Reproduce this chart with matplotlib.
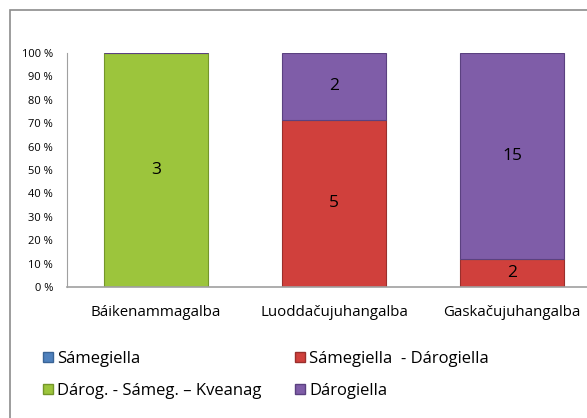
import matplotlib.pyplot as plt
from matplotlib.patches import Patch, Rectangle
import numpy as np

plt.rcParams["font.family"] = ["Open Sans", "DejaVu Sans"]

categories = ["Báikenammagalba", "Luoddačujuhangalba", "Gaskačujuhangalba"]
series_names = ["Sámegiella", "Sámegiella  - Dárogiella",
                "Dárog. - Sámeg. – Kveanag", "Dárogiella"]
samegiella = [0, 0, 0]
same_daro = [0, 5, 2]
daro_same_kvea = [3, 0, 0]
darogiella = [0, 2, 15]
colors = ["#4F81BD", "#D0403C", "#9CC53C", "#7F5DA8"]
edges = ["#3A6496", "#9A2F2C", "#74962A", "#5B4180"]

values = np.array([samegiella, same_daro, daro_same_kvea, darogiella], dtype=float)
totals = values.sum(axis=0)
shares = values / totals * 100

fig = plt.figure(figsize=(5.87, 4.18), dpi=100)
ax = fig.add_axes([67 / 587, 131 / 418, 534 / 587, 234 / 418])

x = np.arange(len(categories))
bottom = np.zeros(len(categories))
for i in range(len(series_names)):
    ax.bar(x, shares[i], 0.58, bottom=bottom, color=colors[i],
           edgecolor=edges[i], linewidth=0.8)
    for j in range(len(categories)):
        if values[i, j] > 0:
            ax.text(x[j], bottom[j] + shares[i, j] / 2, f"{values[i, j]:.0f}",
                    ha="center", va="center", fontsize=12.5, color="black")
    bottom += shares[i]

ax.set_xlim(-0.5, 2.5)
ax.set_ylim(0, 100)
ax.set_yticks(np.arange(0, 101, 10))
ax.set_yticklabels([f"{v} %" for v in range(0, 101, 10)])
ax.set_xticks(x)
ax.set_xticklabels(categories)
ax.tick_params(axis="y", length=0, pad=10, labelsize=8)
ax.tick_params(axis="x", length=0, pad=13, labelsize=10.8)
for s in ["top", "right"]:
    ax.spines[s].set_visible(False)
ax.spines["left"].set_color("#A0A0A0")
ax.spines["bottom"].set_color("#A0A0A0")
ax.spines["bottom"].set_linewidth(1.2)

h = [Patch(facecolor=colors[i], edgecolor=edges[i]) for i in range(4)]
leg_kw = dict(loc="upper left", frameon=False, fontsize=12, handlelength=0.6,
              handleheight=0.6, handletextpad=0.25, labelspacing=0.95,
              borderaxespad=0, borderpad=0)
fig.legend([h[0], h[2]], [series_names[0], series_names[2]],
           bbox_to_anchor=(43 / 587, 1 - 351 / 418), **leg_kw)
fig.legend([h[1], h[3]], [series_names[1], series_names[3]],
           bbox_to_anchor=(295 / 587, 1 - 351 / 418), **leg_kw)

fig.patches.append(Rectangle((10 / 587, -0.1), 1.2, 1.1 - 10 / 418,
                             transform=fig.transFigure, fill=False,
                             edgecolor="#8C8C8C", linewidth=1.2))

fig.savefig("out.png", dpi=100)
